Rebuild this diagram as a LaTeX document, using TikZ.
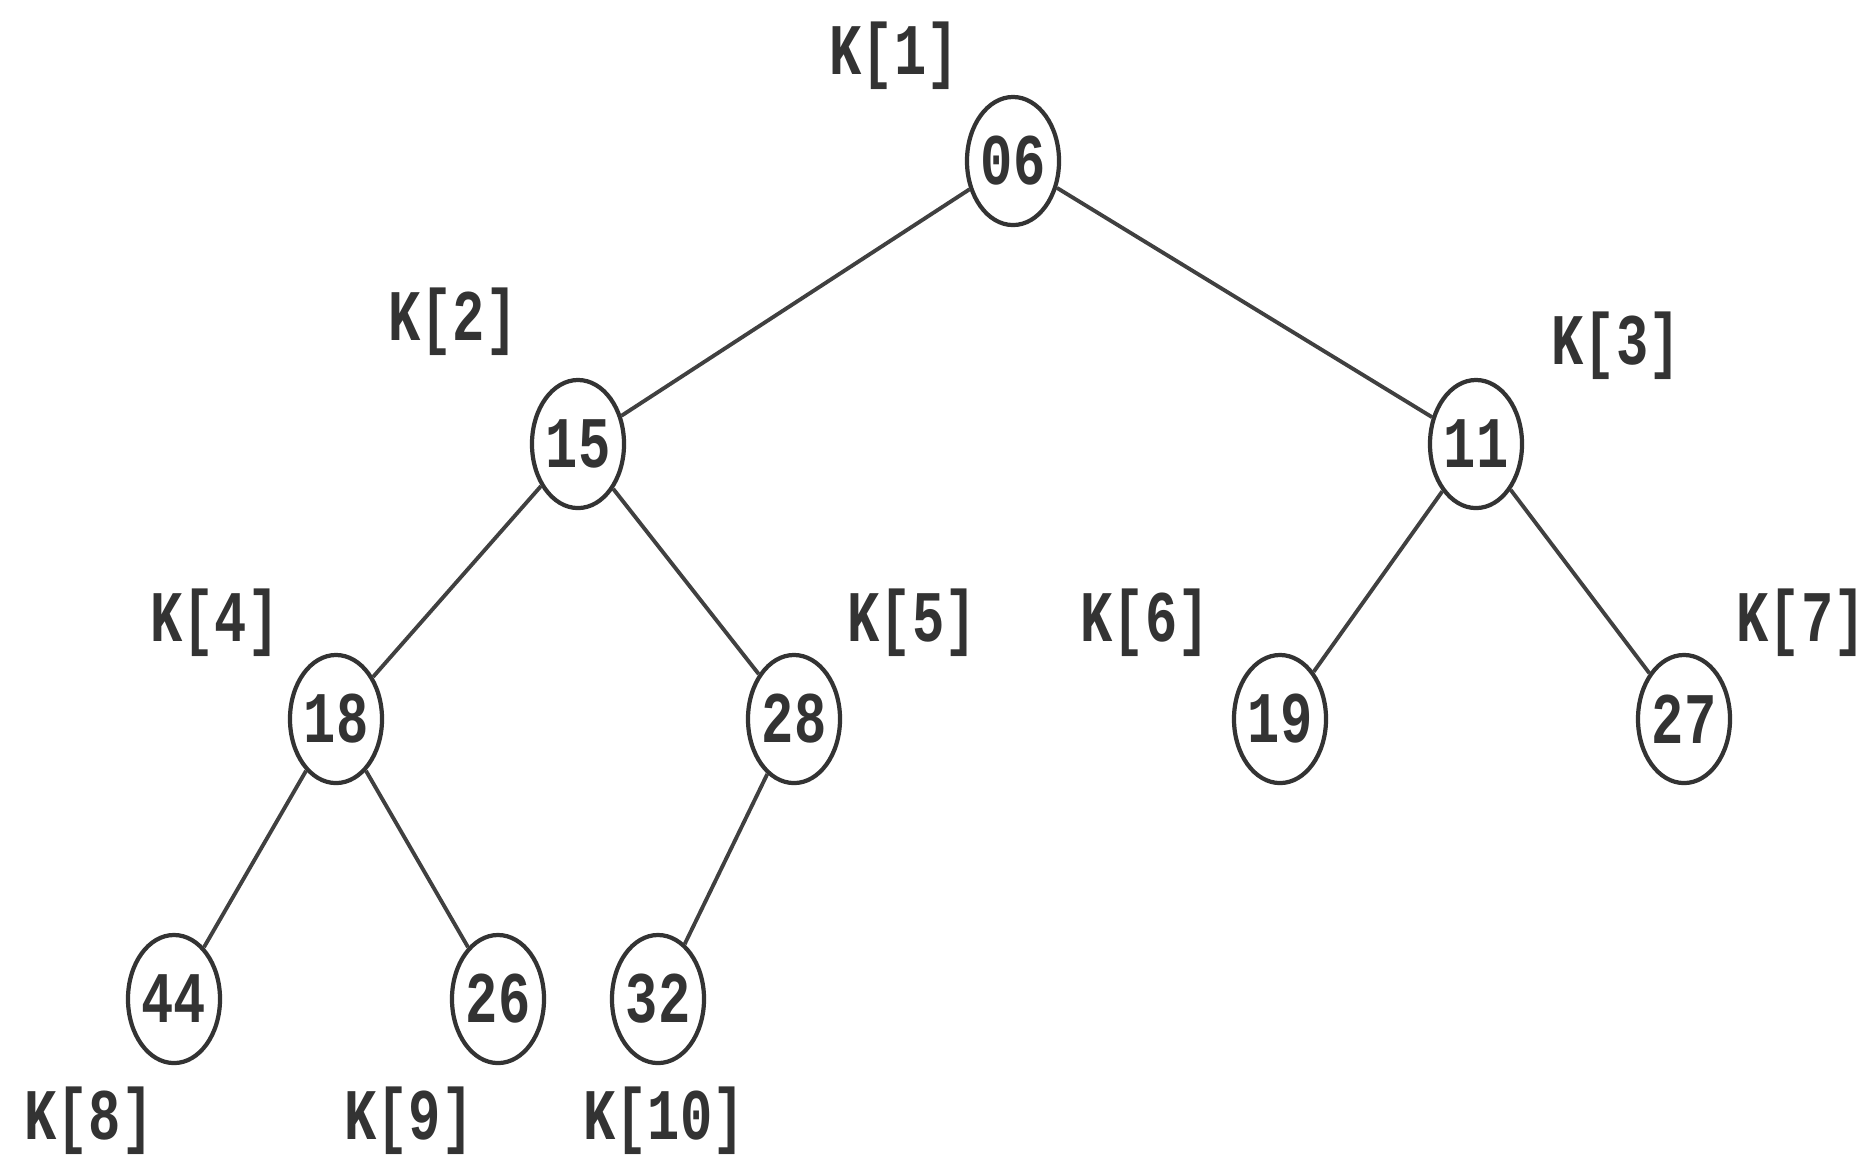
\documentclass[tikz,border=0pt]{standalone}
\usepackage{fontspec}
\newfontfamily\keyfont{Liberation Mono}
\usetikzlibrary{shapes.geometric}

\newcommand{\tallfont}{\keyfont\bfseries\fontsize{15.3}{18}\selectfont}
\newcommand{\tall}[1]{\scalebox{1}[1.35]{#1}}

\tikzset{
  heapnode/.style={draw=black!80, line width=1.2pt, ellipse, inner sep=0pt,
    minimum width=0.92cm, minimum height=1.28cm, font=\tallfont, text=black!80},
  heapidx/.style={inner sep=0pt, font=\tallfont, text=black!80},
  heapedge/.style={draw=black!75, line width=1.1pt}
}

\begin{document}
\begin{tikzpicture}[x=0.01cm,y=-0.01cm]
\useasboundingbox (0,0) rectangle (1870,1159);

% keys of the heap
\node[heapnode] (k1) at (1013,161) {\tall{06}};
\node[heapnode] (k2) at (578,444) {\tall{15}};
\node[heapnode] (k3) at (1476,444) {\tall{11}};
\node[heapnode] (k4) at (336,719) {\tall{18}};
\node[heapnode] (k5) at (794,719) {\tall{28}};
\node[heapnode] (k6) at (1280,719) {\tall{19}};
\node[heapnode] (k7) at (1684,719) {\tall{27}};
\node[heapnode] (k8) at (174,999) {\tall{44}};
\node[heapnode] (k9) at (498,999) {\tall{26}};
\node[heapnode] (k10) at (658,999) {\tall{32}};

% array positions
\node[heapidx] (i1) at (894,56) {\tall{K[1]}};
\node[heapidx] (i2) at (453,322) {\tall{K[2]}};
\node[heapidx] (i3) at (1616,346) {\tall{K[3]}};
\node[heapidx] (i4) at (215,623) {\tall{K[4]}};
\node[heapidx] (i5) at (912,623) {\tall{K[5]}};
\node[heapidx] (i6) at (1145,623) {\tall{K[6]}};
\node[heapidx] (i7) at (1801,623) {\tall{K[7]}};
\node[heapidx] (i8) at (89,1121) {\tall{K[8]}};
\node[heapidx] (i9) at (409,1121) {\tall{K[9]}};
\node[heapidx] (i10) at (664,1121) {\tall{K[10]}};

% parent--child links
\draw[heapedge] (k1) -- (k2);
\draw[heapedge] (k1) -- (k3);
\draw[heapedge] (k2) -- (k4);
\draw[heapedge] (k2) -- (k5);
\draw[heapedge] (k3) -- (k6);
\draw[heapedge] (k3) -- (k7);
\draw[heapedge] (k4) -- (k8);
\draw[heapedge] (k4) -- (k9);
\draw[heapedge] (k5) -- (k10);
\end{tikzpicture}
\end{document}
